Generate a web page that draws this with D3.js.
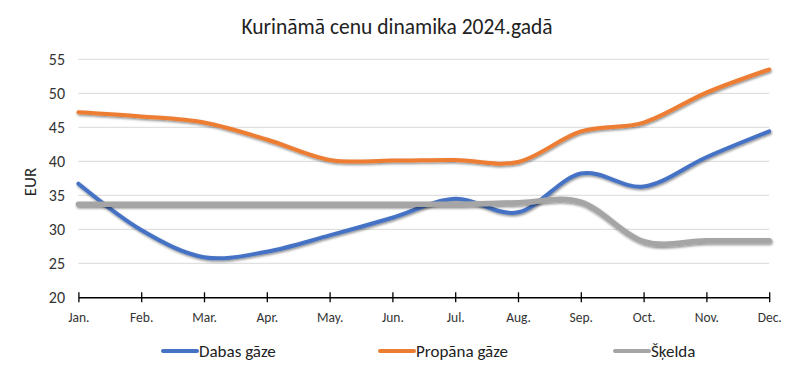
<!DOCTYPE html>
<html><head><meta charset="utf-8">
<script src="https://cdn.jsdelivr.net/npm/d3@7"></script>
<style>body{margin:0;background:#fff;} svg{display:block;font-family:Carlito,Lato,"Open Sans",sans-serif;}</style>
</head><body>
<svg id="c" width="800" height="376"></svg>
<script>
const months = ["Jan.","Feb.","Mar.","Apr.","May.","Jun.","Jul.","Aug.","Sep.","Oct.","Nov.","Dec."];
const dabasGaze = [36.7, 29.9, 25.9, 26.7, 29.1, 31.7, 34.5, 32.5, 38.2, 36.3, 40.6, 44.4];
const propanaGaze = [47.2, 46.6, 45.7, 43.2, 40.2, 40.1, 40.2, 39.9, 44.4, 45.7, 50.1, 53.5];
const skelda = [33.7, 33.7, 33.7, 33.7, 33.7, 33.7, 33.7, 33.9, 34.0, 28.2, 28.3, 28.3];
const yTicks = [20, 25, 30, 35, 40, 45, 50, 55];
const seriesNames = ["Dabas gāze", "Propāna gāze", "Šķelda"];
const colors = ["#4472C4", "#ED7D31", "#A5A5A5"];

const FONT = "Carlito,Lato,'Open Sans',sans-serif";
const svg = d3.select("#c");
const x = d3.scalePoint().domain(months).range([78.4, 769.2]);
const y = d3.scaleLinear().domain([20, 55]).range([297.3, 59.3]);

const defs = svg.append("defs");
const f = defs.append("filter").attr("id","sh").attr("x","-10%").attr("y","-20%").attr("width","120%").attr("height","140%");
f.append("feDropShadow").attr("dx",0.8).attr("dy",1.5).attr("stdDeviation",1.2).attr("flood-color","#000").attr("flood-opacity",0.45);

// title
svg.append("text").attr("x",397).attr("y",34).attr("text-anchor","middle")
  .attr("font-size",21.5).attr("fill","#222").text("Kurinām\u0101 cenu dinamika 2024.gad\u0101");

// gridlines
svg.append("g").selectAll("line").data(yTicks.filter(d=>d>20)).join("line")
  .attr("x1",78.4).attr("x2",769.2).attr("y1",d=>y(d)).attr("y2",d=>y(d))
  .attr("stroke","#d9d9d9").attr("stroke-width",1);

// y axis labels
const ya = svg.append("g").attr("transform","translate(65,0)")
  .call(d3.axisLeft(y).tickValues(yTicks).tickSize(0).tickPadding(0));
ya.select(".domain").remove();
ya.selectAll("text").attr("font-size",16).attr("fill","#333").attr("font-family",FONT);

// y title
svg.append("text").attr("transform","translate(35.5,182) rotate(-90)").attr("text-anchor","middle")
  .attr("font-size",17).attr("fill","#222").text("EUR");

// x axis
const xa = svg.append("g").attr("transform","translate(0,297.3)")
  .call(d3.axisBottom(x).tickSizeInner(5).tickSizeOuter(0).tickPadding(10));
xa.select(".domain").attr("stroke","#000").attr("stroke-width",1.5);
xa.selectAll(".tick line").attr("y1",-5).attr("y2",5).attr("stroke","#000").attr("stroke-width",1.3);
xa.selectAll("text").attr("font-size",13.5).attr("fill","#333").attr("font-family",FONT);

// lines
const line = d3.line().x((d,i)=>x(months[i])).y(d=>y(d)).curve(d3.curveCardinal.tension(0));
const series = [dabasGaze, propanaGaze, skelda];
series.forEach((s,i)=>{
  svg.append("path").datum(s).attr("d",line).attr("fill","none")
    .attr("stroke",colors[i]).attr("stroke-width", i===2?5.5:4).attr("stroke-linecap","round")
    .attr("filter","url(#sh)");
});

// legend
const legX = [163, 380, 615];
const lg = svg.append("g");
seriesNames.forEach((n,i)=>{
  lg.append("line").attr("x1",legX[i]).attr("x2",legX[i]+34).attr("y1",351).attr("y2",351)
    .attr("stroke",colors[i]).attr("stroke-width",4).attr("stroke-linecap","round");
  lg.append("text").attr("x",legX[i]+36).attr("y",357).attr("font-size",17).attr("fill","#222").text(n);
});
</script>
</body></html>
